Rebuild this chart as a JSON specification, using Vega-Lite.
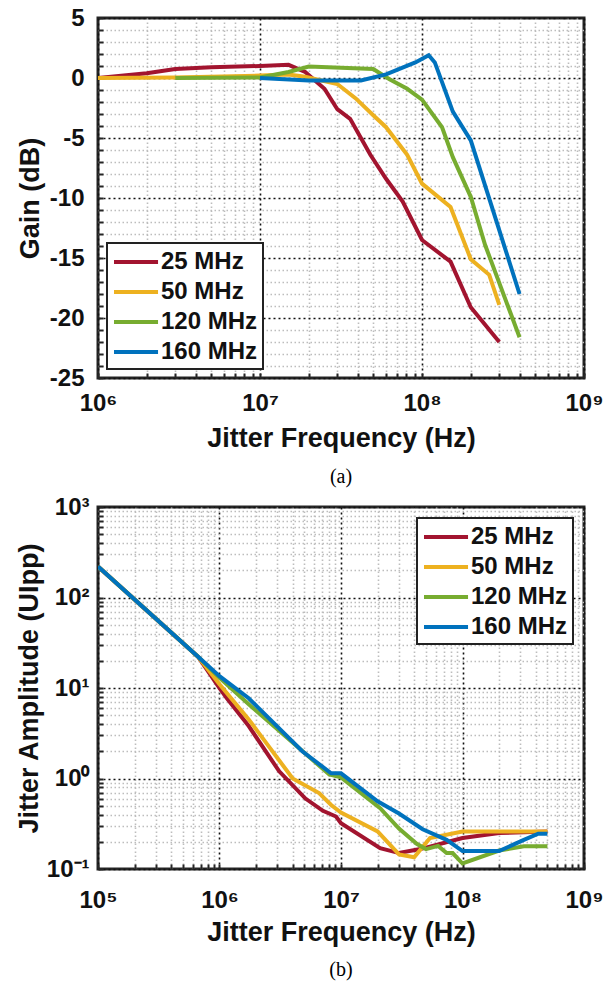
{
  "$schema": "https://vega.github.io/schema/vega-lite/v6.json",
  "background": "white",
  "padding": {"left": 13, "top": 4, "right": 5, "bottom": 5},
  "spacing": 4,
  "config": {
    "view": {"stroke": "#262626", "strokeWidth": 3},
    "font": "Liberation Sans",
    "axis": {
      "domain": false,
      "labelFont": "Liberation Sans",
      "labelFontWeight": "bold",
      "labelFontSize": 24,
      "labelColor": "#111",
      "titleFont": "Liberation Sans",
      "titleFontWeight": "bold",
      "titleFontSize": 27,
      "titleColor": "#111",
      "ticks": true,
      "tickSize": -5,
      "tickWidth": 2,
      "tickColor": "#262626",
      "labelOverlap": false,
      "labelFlush": false,
      "gridWidth": 1.6
    },
    "legend": {
      "symbolType": "M-1,0H2.67",
      "symbolSize": 576,
      "symbolStrokeWidth": 4,
      "labelFont": "Liberation Sans",
      "labelFontWeight": "bold",
      "labelFontSize": 24,
      "labelColor": "#111",
      "strokeColor": "#222",
      "strokeWidth": 2,
      "fillColor": "white",
      "padding": 5,
      "rowPadding": 4,
      "labelOffset": 21,
      "title": null
    },
    "title": {"font": "Liberation Serif", "fontSize": 20, "fontWeight": "normal", "color": "#000"}
  },
  "datasets": {
    "gain": [
      {"f": 1e6, "v": 0, "s": "25 MHz"},
      {"f": 2e6, "v": 0.4, "s": "25 MHz"},
      {"f": 3e6, "v": 0.75, "s": "25 MHz"},
      {"f": 5e6, "v": 0.9, "s": "25 MHz"},
      {"f": 1e7, "v": 1.0, "s": "25 MHz"},
      {"f": 1.5e7, "v": 1.1, "s": "25 MHz"},
      {"f": 1.9e7, "v": 0.5, "s": "25 MHz"},
      {"f": 2.5e7, "v": -0.9, "s": "25 MHz"},
      {"f": 3e7, "v": -2.6, "s": "25 MHz"},
      {"f": 3.6e7, "v": -3.4, "s": "25 MHz"},
      {"f": 4.8e7, "v": -6.4, "s": "25 MHz"},
      {"f": 6e7, "v": -8.4, "s": "25 MHz"},
      {"f": 7.6e7, "v": -10.3, "s": "25 MHz"},
      {"f": 1e8, "v": -13.5, "s": "25 MHz"},
      {"f": 1.5e8, "v": -15.3, "s": "25 MHz"},
      {"f": 2e8, "v": -19.1, "s": "25 MHz"},
      {"f": 3e8, "v": -22, "s": "25 MHz"},
      {"f": 1e6, "v": 0, "s": "50 MHz"},
      {"f": 3e6, "v": 0.05, "s": "50 MHz"},
      {"f": 1e7, "v": 0.2, "s": "50 MHz"},
      {"f": 1.5e7, "v": 0.3, "s": "50 MHz"},
      {"f": 1.9e7, "v": 0.1, "s": "50 MHz"},
      {"f": 3e7, "v": -0.5, "s": "50 MHz"},
      {"f": 3.9e7, "v": -1.7, "s": "50 MHz"},
      {"f": 5e7, "v": -3.1, "s": "50 MHz"},
      {"f": 6e7, "v": -4.1, "s": "50 MHz"},
      {"f": 8.1e7, "v": -6.4, "s": "50 MHz"},
      {"f": 1e8, "v": -8.8, "s": "50 MHz"},
      {"f": 1.5e8, "v": -10.75, "s": "50 MHz"},
      {"f": 2e8, "v": -15.1, "s": "50 MHz"},
      {"f": 2.6e8, "v": -16.4, "s": "50 MHz"},
      {"f": 3e8, "v": -18.9, "s": "50 MHz"},
      {"f": 3e6, "v": 0, "s": "120 MHz"},
      {"f": 1e7, "v": 0.05, "s": "120 MHz"},
      {"f": 1.5e7, "v": 0.5, "s": "120 MHz"},
      {"f": 2e7, "v": 0.95, "s": "120 MHz"},
      {"f": 5e7, "v": 0.75, "s": "120 MHz"},
      {"f": 6.3e7, "v": -0.1, "s": "120 MHz"},
      {"f": 8.1e7, "v": -0.9, "s": "120 MHz"},
      {"f": 1e8, "v": -1.8, "s": "120 MHz"},
      {"f": 1.33e8, "v": -4.1, "s": "120 MHz"},
      {"f": 1.55e8, "v": -6.6, "s": "120 MHz"},
      {"f": 2e8, "v": -9.9, "s": "120 MHz"},
      {"f": 2.45e8, "v": -13.9, "s": "120 MHz"},
      {"f": 4e8, "v": -21.6, "s": "120 MHz"},
      {"f": 1e7, "v": 0, "s": "160 MHz"},
      {"f": 2e7, "v": -0.2, "s": "160 MHz"},
      {"f": 4.2e7, "v": -0.2, "s": "160 MHz"},
      {"f": 6e7, "v": 0.3, "s": "160 MHz"},
      {"f": 9.1e7, "v": 1.3, "s": "160 MHz"},
      {"f": 1.1e8, "v": 1.9, "s": "160 MHz"},
      {"f": 1.2e8, "v": 1.3, "s": "160 MHz"},
      {"f": 1.55e8, "v": -2.8, "s": "160 MHz"},
      {"f": 2e8, "v": -5.2, "s": "160 MHz"},
      {"f": 4e8, "v": -18, "s": "160 MHz"}
    ],
    "jtol": [
      {"f": 1e5, "v": 220, "s": "25 MHz"},
      {"f": 6.7e5, "v": 22, "s": "25 MHz"},
      {"f": 1e6, "v": 10, "s": "25 MHz"},
      {"f": 1.15e6, "v": 7.7, "s": "25 MHz"},
      {"f": 1.74e6, "v": 3.8, "s": "25 MHz"},
      {"f": 3.1e6, "v": 1.2, "s": "25 MHz"},
      {"f": 5.1e6, "v": 0.6, "s": "25 MHz"},
      {"f": 7.1e6, "v": 0.44, "s": "25 MHz"},
      {"f": 9.1e6, "v": 0.38, "s": "25 MHz"},
      {"f": 1e7, "v": 0.32, "s": "25 MHz"},
      {"f": 2.1e7, "v": 0.17, "s": "25 MHz"},
      {"f": 3e7, "v": 0.15, "s": "25 MHz"},
      {"f": 4.5e7, "v": 0.166, "s": "25 MHz"},
      {"f": 1e8, "v": 0.22, "s": "25 MHz"},
      {"f": 2e8, "v": 0.25, "s": "25 MHz"},
      {"f": 5e8, "v": 0.26, "s": "25 MHz"},
      {"f": 1e5, "v": 220, "s": "50 MHz"},
      {"f": 6.7e5, "v": 22, "s": "50 MHz"},
      {"f": 1e6, "v": 11, "s": "50 MHz"},
      {"f": 1.74e6, "v": 4.5, "s": "50 MHz"},
      {"f": 4e6, "v": 1.0, "s": "50 MHz"},
      {"f": 6.6e6, "v": 0.69, "s": "50 MHz"},
      {"f": 8.3e6, "v": 0.51, "s": "50 MHz"},
      {"f": 1e7, "v": 0.42, "s": "50 MHz"},
      {"f": 2e7, "v": 0.26, "s": "50 MHz"},
      {"f": 3e7, "v": 0.145, "s": "50 MHz"},
      {"f": 4e7, "v": 0.135, "s": "50 MHz"},
      {"f": 5.4e7, "v": 0.22, "s": "50 MHz"},
      {"f": 1e8, "v": 0.26, "s": "50 MHz"},
      {"f": 5e8, "v": 0.26, "s": "50 MHz"},
      {"f": 1e5, "v": 220, "s": "120 MHz"},
      {"f": 6.7e5, "v": 22, "s": "120 MHz"},
      {"f": 1e6, "v": 13, "s": "120 MHz"},
      {"f": 1.74e6, "v": 6.6, "s": "120 MHz"},
      {"f": 8e6, "v": 1.11, "s": "120 MHz"},
      {"f": 1e7, "v": 1.03, "s": "120 MHz"},
      {"f": 2.1e7, "v": 0.47, "s": "120 MHz"},
      {"f": 3e7, "v": 0.28, "s": "120 MHz"},
      {"f": 4.2e7, "v": 0.19, "s": "120 MHz"},
      {"f": 5e7, "v": 0.166, "s": "120 MHz"},
      {"f": 6.3e7, "v": 0.18, "s": "120 MHz"},
      {"f": 7.4e7, "v": 0.15, "s": "120 MHz"},
      {"f": 8.3e7, "v": 0.15, "s": "120 MHz"},
      {"f": 1e8, "v": 0.115, "s": "120 MHz"},
      {"f": 2e8, "v": 0.16, "s": "120 MHz"},
      {"f": 3.2e8, "v": 0.178, "s": "120 MHz"},
      {"f": 5e8, "v": 0.178, "s": "120 MHz"},
      {"f": 1e5, "v": 220, "s": "160 MHz"},
      {"f": 6.7e5, "v": 22, "s": "160 MHz"},
      {"f": 1e6, "v": 13.5, "s": "160 MHz"},
      {"f": 1.74e6, "v": 7.7, "s": "160 MHz"},
      {"f": 4.8e6, "v": 2.0, "s": "160 MHz"},
      {"f": 8.3e6, "v": 1.14, "s": "160 MHz"},
      {"f": 1e7, "v": 1.14, "s": "160 MHz"},
      {"f": 2e7, "v": 0.56, "s": "160 MHz"},
      {"f": 3e7, "v": 0.41, "s": "160 MHz"},
      {"f": 4.7e7, "v": 0.275, "s": "160 MHz"},
      {"f": 7.4e7, "v": 0.21, "s": "160 MHz"},
      {"f": 1e8, "v": 0.158, "s": "160 MHz"},
      {"f": 2e8, "v": 0.158, "s": "160 MHz"},
      {"f": 3.2e8, "v": 0.21, "s": "160 MHz"},
      {"f": 4.2e8, "v": 0.245, "s": "160 MHz"},
      {"f": 5e8, "v": 0.245, "s": "160 MHz"}
    ]
  },
  "resolve": {"scale": {"color": "independent"}, "legend": {"color": "independent"}},
  "vconcat": [
    {
      "width": 486,
      "height": 360,
      "title": {"text": "(a)", "orient": "bottom", "offset": 16, "anchor": "middle", "frame": "group"},
      "data": {"name": "gain"},
      "mark": {"type": "line", "strokeWidth": 4, "clip": true},
      "encoding": {
        "x": {
          "field": "f", "type": "quantitative",
          "scale": {"type": "log", "domain": [1e6, 1e9], "nice": false},
          "axis": {
            "title": "Jitter Frequency (Hz)",
            "values": [1e6, 2e6, 3e6, 4e6, 5e6, 6e6, 7e6, 8e6, 9e6, 1e7, 2e7, 3e7, 4e7, 5e7, 6e7, 7e7, 8e7, 9e7, 1e8, 2e8, 3e8, 4e8, 5e8, 6e8, 7e8, 8e8, 9e8, 1e9],
            "labelExpr": "abs(log(datum.value)/LN10 - round(log(datum.value)/LN10)) < 0.001 ? '10' + ['⁻¹','⁰','¹','²','³','⁴','⁵','⁶','⁷','⁸','⁹'][round(log(datum.value)/LN10)+1] : ''",
            "labelPadding": 18,
            "titlePadding": 10,
            "gridColor": {"condition": {"test": "abs(log(datum.value)/LN10 - round(log(datum.value)/LN10)) < 0.001", "value": "#111"}, "value": "#bdbdbd"},
            "gridDash": {"condition": {"test": "abs(log(datum.value)/LN10 - round(log(datum.value)/LN10)) < 0.001", "value": [2, 3]}, "value": [1.5, 2.5]}
          }
        },
        "y": {
          "field": "v", "type": "quantitative",
          "scale": {"domain": [-25, 5], "nice": false, "zero": false},
          "axis": {
            "title": "Gain (dB)",
            "values": [-25, -24, -23, -22, -21, -20, -19, -18, -17, -16, -15, -14, -13, -12, -11, -10, -9, -8, -7, -6, -5, -4, -3, -2, -1, 0, 1, 2, 3, 4, 5],
            "labelExpr": "datum.value % 5 == 0 ? '' + datum.value : ''",
            "labelPadding": 19,
            "minExtent": 49,
            "maxExtent": 49,
            "titlePadding": 5,
            "gridColor": {"condition": {"test": "datum.value % 5 == 0", "value": "#111"}, "value": "#bdbdbd"},
            "gridDash": {"condition": {"test": "datum.value % 5 == 0", "value": [2, 3]}, "value": [1.5, 2.5]}
          }
        },
        "color": {
          "field": "s", "type": "nominal", "sort": ["25 MHz", "50 MHz", "120 MHz", "160 MHz"],
          "scale": {"domain": ["25 MHz", "50 MHz", "120 MHz", "160 MHz"], "range": ["#A2142F", "#EDB120", "#77AC30", "#0072BD"]},
          "legend": {"orient": "bottom-left", "offset": 9, "labelExpr": "length(datum.label) < 7 ? '\u2007' + datum.label : datum.label"}
        }
      }
    },
    {
      "width": 486,
      "height": 362,
      "title": {"text": "(b)", "orient": "bottom", "offset": 15, "anchor": "middle", "frame": "group"},
      "data": {"name": "jtol"},
      "mark": {"type": "line", "strokeWidth": 4, "clip": true},
      "encoding": {
        "x": {
          "field": "f", "type": "quantitative",
          "scale": {"type": "log", "domain": [1e5, 1e9], "nice": false},
          "axis": {
            "title": "Jitter Frequency (Hz)",
            "values": [1e5, 2e5, 3e5, 4e5, 5e5, 6e5, 7e5, 8e5, 9e5, 1e6, 2e6, 3e6, 4e6, 5e6, 6e6, 7e6, 8e6, 9e6, 1e7, 2e7, 3e7, 4e7, 5e7, 6e7, 7e7, 8e7, 9e7, 1e8, 2e8, 3e8, 4e8, 5e8, 6e8, 7e8, 8e8, 9e8, 1e9],
            "labelExpr": "abs(log(datum.value)/LN10 - round(log(datum.value)/LN10)) < 0.001 ? '10' + ['⁻¹','⁰','¹','²','³','⁴','⁵','⁶','⁷','⁸','⁹'][round(log(datum.value)/LN10)+1] : ''",
            "labelPadding": 24,
            "titlePadding": 7,
            "gridColor": {"condition": {"test": "abs(log(datum.value)/LN10 - round(log(datum.value)/LN10)) < 0.001", "value": "#111"}, "value": "#bdbdbd"},
            "gridDash": {"condition": {"test": "abs(log(datum.value)/LN10 - round(log(datum.value)/LN10)) < 0.001", "value": [2, 3]}, "value": [1.5, 2.5]}
          }
        },
        "y": {
          "field": "v", "type": "quantitative",
          "scale": {"type": "log", "domain": [0.1, 1000], "nice": false},
          "axis": {
            "title": "Jitter Amplitude (UIpp)",
            "values": [0.1, 0.2, 0.3, 0.4, 0.5, 0.6, 0.7, 0.8, 0.9, 1, 2, 3, 4, 5, 6, 7, 8, 9, 10, 20, 30, 40, 50, 60, 70, 80, 90, 100, 200, 300, 400, 500, 600, 700, 800, 900, 1000],
            "labelExpr": "abs(log(datum.value)/LN10 - round(log(datum.value)/LN10)) < 0.001 ? '10' + ['⁻¹','⁰','¹','²','³','⁴','⁵','⁶','⁷','⁸','⁹'][round(log(datum.value)/LN10)+1] : ''",
            "labelPadding": 14,
            "minExtent": 50,
            "maxExtent": 50,
            "titlePadding": 5,
            "gridColor": {"condition": {"test": "abs(log(datum.value)/LN10 - round(log(datum.value)/LN10)) < 0.001", "value": "#111"}, "value": "#bdbdbd"},
            "gridDash": {"condition": {"test": "abs(log(datum.value)/LN10 - round(log(datum.value)/LN10)) < 0.001", "value": [2, 3]}, "value": [1.5, 2.5]}
          }
        },
        "color": {
          "field": "s", "type": "nominal", "sort": ["25 MHz", "50 MHz", "120 MHz", "160 MHz"],
          "scale": {"domain": ["25 MHz", "50 MHz", "120 MHz", "160 MHz"], "range": ["#A2142F", "#EDB120", "#77AC30", "#0072BD"]},
          "legend": {"orient": "top-right", "offset": 11, "labelExpr": "length(datum.label) < 7 ? '\u2007' + datum.label : datum.label"}
        }
      }
    }
  ]
}
